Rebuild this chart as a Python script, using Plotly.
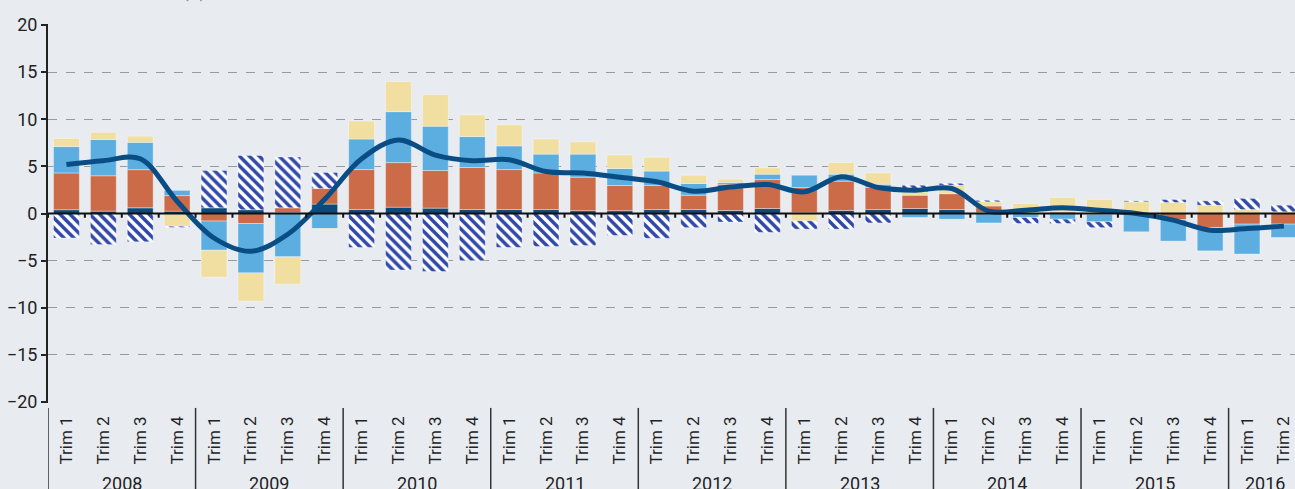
import plotly.graph_objects as go

years = ["2008"] * 4 + ["2009"] * 4 + ["2010"] * 4 + ["2011"] * 4 + ["2012"] * 4 + \
        ["2013"] * 4 + ["2014"] * 4 + ["2015"] * 4 + ["2016"] * 2
quarters = (["Trim 1", "Trim 2", "Trim 3", "Trim 4"] * 9)[:34]

navy = [0.4, 0.25, 0.6, 0.25, 0.6, 0.4, 0.1, 1.0,
        0.42, 0.67, 0.57, 0.42, 0.42, 0.42, 0.3, 0.3,
        0.42, 0.42, 0.32, 0.53, 0.1, 0.32, 0.42, 0.53,
        0.42, 0.1, 0.05, 0.05, 0.05, 0.02, 0.02, 0.02, 0.02, 0.02]
orange = [3.9, 3.75, 4.05, 1.65, -0.8, -1.06, 0.5, 1.65,
          4.24, 4.73, 3.99, 4.46, 4.24, 3.88, 3.55, 2.67,
          2.56, 1.52, 2.78, 3.07, 2.66, 3.11, 2.34, 1.41,
          1.68, 0.7, 0.05, 0.13, -0.1, -0.05, -0.64, -1.48, -1.13, -1.13]
blue = [2.8, 3.85, 2.9, 0.55, -3.1, -5.24, -4.6, -1.6,
        3.24, 5.4, 4.7, 3.28, 2.51, 2.0, 2.45, 1.8,
        1.52, 1.24, 0.2, 0.57, 1.3, 0.74, 0.34, -0.42,
        -0.6, -1.0, -0.42, -0.6, -0.78, -1.89, -2.29, -2.48, -3.17, -1.41]
yellow = [0.85, 0.75, 0.65, -1.35, -2.85, -3.0, -2.9, -0.1,
          1.9, 3.2, 3.34, 2.3, 2.23, 1.6, 1.3, 1.43,
          1.47, 0.88, 0.34, 0.67, -0.78, 1.23, 1.2, 0.36,
          0.9, 0.44, 0.96, 1.52, 1.43, 1.22, 1.15, 0.86, 0.4, 0.16]
hatched = [-2.6, -3.3, -3.0, -0.12, 3.95, 5.75, 5.4, 1.7,
           -3.6, -6.0, -6.15, -5.0, -3.6, -3.5, -3.4, -2.33,
           -2.63, -1.5, -0.9, -2.0, -0.88, -1.66, -1.0, 0.7,
           0.2, 0.16, -0.64, -0.46, -0.62, 0.1, 0.31, 0.46, 1.18, 0.7]
total = [5.2, 5.6, 5.8, 1.3, -2.6, -4.0, -2.2, 1.5,
         5.8, 7.8, 6.2, 5.6, 5.7, 4.45, 4.3, 3.85,
         3.36, 2.37, 2.8, 3.07, 2.3, 3.9, 2.76, 2.47,
         2.65, 0.25, 0.35, 0.6, 0.35, 0.0, -0.7, -1.77, -1.6, -1.34]

xi = list(range(len(quarters)))
edge = dict(color="rgba(255,255,255,0.45)", width=0.8)

fig = go.Figure()
fig.add_trace(go.Bar(x=xi, y=navy, marker=dict(color="#0d4a7b", line=edge), name="a"))
fig.add_trace(go.Bar(x=xi, y=orange, marker=dict(color="#cc6b47", line=edge), name="b"))
fig.add_trace(go.Bar(x=xi, y=blue, marker=dict(color="#5caee0", line=edge), name="c"))
fig.add_trace(go.Bar(x=xi, y=yellow, marker=dict(color="#f0dfa0", line=edge), name="d"))
fig.add_trace(go.Bar(x=xi, y=hatched, name="e",
                     marker=dict(color="white", line=edge,
                                 pattern=dict(shape="\\", bgcolor="white", fgcolor="#2f48a8",
                                              fgopacity=1, size=7, solidity=0.5,
                                              fillmode="replace"))))
fig.add_trace(go.Scatter(x=xi, y=total, mode="lines", name="total",
                         line=dict(color="#0a4d85", width=5, shape="spline", smoothing=1.0)))

n = len(xi)
shapes = [dict(type="line", xref="x", yref="y", x0=-0.5, x1=n - 0.5, y0=0, y1=0,
               line=dict(color="#111", width=2), layer="above")]
for k in range(n + 1):
    shapes.append(dict(type="line", xref="x", yref="y", x0=k - 0.5, x1=k - 0.5, y0=0, y1=-0.45,
                       line=dict(color="#111", width=2), layer="above"))

# year groups: dividers and labels
annotations = []
groups = []
for i, yv in enumerate(years):
    if not groups or groups[-1][0] != yv:
        groups.append([yv, i, i])
    else:
        groups[-1][2] = i
for yv, a, b in groups:
    shapes.append(dict(type="line", xref="x", yref="paper", x0=a - 0.5, x1=a - 0.5,
                       y0=-0.013, y1=-0.24, line=dict(color="#333", width=1.5)))
    annotations.append(dict(text=yv, xref="x", yref="paper", x=(a + b) / 2, y=0,
                            yanchor="top", yshift=-68, showarrow=False,
                            font=dict(size=18, color="#222")))

font = "Roboto, sans-serif"
annotations.append(dict(text="Variación anual (%)", xref="paper", yref="paper",
                        x=0.022, y=1, xanchor="left", yanchor="bottom", yshift=20,
                        showarrow=False, font=dict(size=15, color="#777")))

fig.update_layout(
    width=1295, height=489,
    margin=dict(l=48, r=0, t=24, b=86, autoexpand=False),
    paper_bgcolor="#e8ecf1", plot_bgcolor="#e8ecf1",
    barmode="relative", bargap=0.3, showlegend=False,
    font=dict(family=font, color="#222"),
    shapes=shapes, annotations=annotations,
    xaxis=dict(range=[-0.5, 33.3], tickmode="array", tickvals=xi, ticktext=quarters,
               tickangle=-90, ticklabelstandoff=9,
               tickfont=dict(size=17, color="#222"),
               showgrid=False, showline=False, ticks="", zeroline=False, automargin=False),
    yaxis=dict(range=[-20.1, 20.1], tickvals=[-20, -15, -10, -5, 0, 5, 10, 15, 20],
               tickfont=dict(size=18, color="#222"),
               showgrid=True, gridcolor="#9a9a9a", griddash="dash", gridwidth=1,
               zeroline=False, showline=True, linecolor="#222", linewidth=2,
               ticks="outside", ticklen=5, tickcolor="#222", tickwidth=2, automargin=False),
)

fig.write_html("out.html", config={"displayModeBar": False},
               post_script="document.body.style.margin='0';document.body.style.overflow='hidden';")
